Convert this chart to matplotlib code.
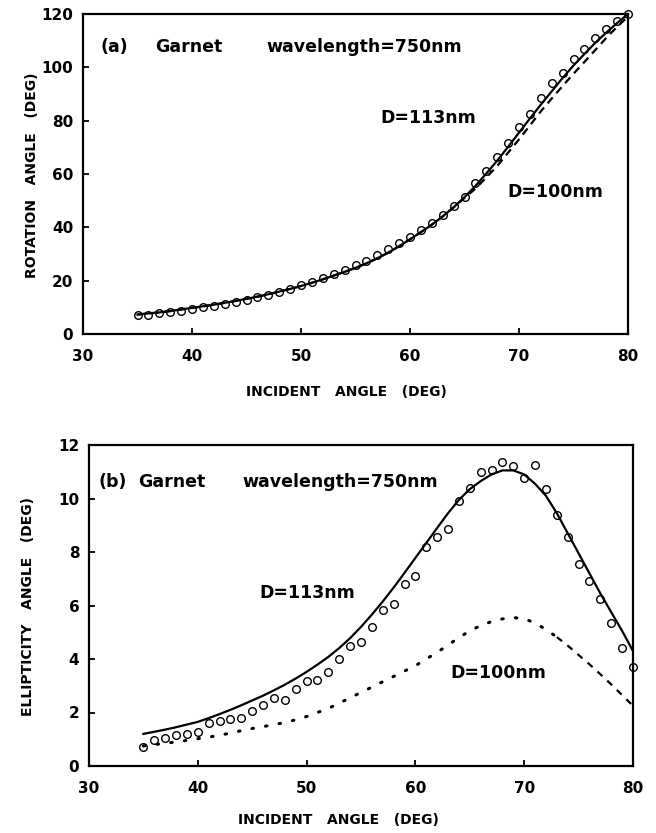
import numpy as np
import matplotlib
matplotlib.use('Agg')
import matplotlib.pyplot as plt

plt.rcParams['font.family'] = ['DejaVu Sans']
plt.rcParams['font.weight'] = 'bold'

# (a) rotation angle vs incident angle
rot_meas_x = list(range(35, 81))
rot_meas_y = [7.0, 7.2, 7.8, 8.3, 8.8, 9.3, 10.0, 10.5, 11.1, 12.0,
              12.8, 13.7, 14.7, 15.8, 17.0, 18.2, 19.5, 21.0, 22.5, 24.0,
              25.7, 27.5, 29.5, 31.7, 34.0, 36.3, 39.0, 41.8, 44.8, 48.0,
              51.5, 56.5, 61.0, 66.5, 71.5, 77.5, 82.5, 88.5, 94.0, 98.0,
              103.0, 107.0, 111.0, 114.5, 117.5, 120.0]
rot_calc_x = list(range(35, 81))
rot_d113 = [7.3, 7.7, 8.1, 8.6, 9.2, 9.8, 10.4, 11.0, 11.7, 12.4,
            13.2, 14.0, 14.9, 15.9, 16.9, 18.0, 19.2, 20.5, 21.9, 23.3,
            24.8, 26.5, 28.4, 30.5, 32.9, 35.5, 38.2, 41.0, 44.1, 47.5,
            51.3, 55.5, 60.2, 65.0, 70.2, 75.5, 80.8, 86.0, 91.0, 96.0,
            100.7, 105.0, 109.2, 113.0, 116.6, 120.0]
rot_d100 = [7.3, 7.7, 8.1, 8.6, 9.2, 9.8, 10.4, 11.0, 11.7, 12.4,
            13.2, 14.0, 14.9, 15.9, 16.9, 18.0, 19.2, 20.5, 21.9, 23.3,
            24.8, 26.5, 28.4, 30.5, 32.9, 35.5, 38.2, 41.0, 44.1, 47.5,
            51.0, 54.5, 58.7, 63.0, 68.0, 73.0, 78.2, 83.5, 88.3, 93.0,
            97.6, 102.0, 106.5, 111.0, 115.2, 119.0]

# (b) ellipticity angle vs incident angle
ell_meas_x = list(range(35, 81))
ell_meas_y = [0.7, 0.97, 1.05, 1.17, 1.2, 1.28, 1.62, 1.68, 1.74, 1.78,
              2.07, 2.27, 2.56, 2.45, 2.86, 3.18, 3.2, 3.5, 4.0, 4.48,
              4.65, 5.2, 5.85, 6.05, 6.8, 7.1, 8.2, 8.55, 8.85, 9.9,
              10.4, 11.0, 11.05, 11.35, 11.2, 10.75, 11.25, 10.35, 9.4, 8.55,
              7.55, 6.9, 6.25, 5.35, 4.4, 3.7]
ell_calc_x = list(range(35, 81))
ell_d113 = [1.2, 1.28, 1.36, 1.45, 1.55, 1.65, 1.79, 1.94, 2.1, 2.27,
            2.45, 2.63, 2.83, 3.04, 3.27, 3.52, 3.79, 4.08, 4.41, 4.78,
            5.2, 5.66, 6.15, 6.67, 7.22, 7.78, 8.34, 8.9, 9.45, 9.95,
            10.35, 10.65, 10.9, 11.05, 11.05, 10.9, 10.55, 10.1, 9.45, 8.7,
            7.95, 7.2, 6.45, 5.75, 5.05, 4.3]
ell_d100 = [0.75, 0.8, 0.85, 0.9, 0.96, 1.02, 1.08, 1.15, 1.23, 1.32,
            1.4, 1.47, 1.55, 1.62, 1.73, 1.85, 2.0, 2.15, 2.35, 2.55,
            2.75, 2.95, 3.15, 3.35, 3.55, 3.75, 4.0, 4.25, 4.52, 4.8,
            5.05, 5.25, 5.4, 5.5, 5.55, 5.5, 5.35, 5.1, 4.82, 4.5,
            4.15, 3.8, 3.43, 3.05, 2.65, 2.25]
ell_dash_from = 73  # calculated D=100 curve switches from dotted to dashed

TICK_FS = 11
LABEL_FS = 10
NOTE_FS = 12.5


def style_axes(ax, yticks):
    ax.set_xlim(30, 80)
    ax.set_xticks([30, 40, 50, 60, 70, 80])
    ax.set_ylim(yticks[0], yticks[-1])
    ax.set_yticks(yticks)
    for s in ax.spines.values():
        s.set_linewidth(1.6)
    ax.tick_params(axis='x', direction='in', length=4, width=1.3, pad=11,
                   labelsize=TICK_FS, top=False)
    ax.tick_params(axis='y', direction='in', length=4, width=1.3, pad=7,
                   labelsize=TICK_FS, right=False)
    for lab in ax.get_xticklabels() + ax.get_yticklabels():
        lab.set_fontweight('bold')


fig = plt.figure(figsize=(6.56, 8.33), dpi=100)

ax1 = fig.add_axes([83 / 656, 1 - 334 / 833, 545 / 656, 320 / 833])
ax1.plot(rot_calc_x, rot_d113, color='black', lw=1.6)
ax1.plot(rot_calc_x, rot_d100, color='black', lw=1.6, linestyle=(0, (3.5, 2.5)))
ax1.plot(rot_meas_x, rot_meas_y, linestyle='none', marker='o', ms=5.5,
         mfc='none', mec='black', mew=1.0, clip_on=False)
style_axes(ax1, [0, 20, 40, 60, 80, 100, 120])
ax1.text(31.56, 107.6, '(a)', fontsize=NOTE_FS, fontweight='bold', va='center')
ax1.text(36.6, 107.6, 'Garnet', fontsize=NOTE_FS, fontweight='bold', va='center')
ax1.text(46.8, 107.6, 'wavelength=750nm', fontsize=NOTE_FS, fontweight='bold', va='center')
ax1.text(57.3, 81, 'D=113nm', fontsize=NOTE_FS, fontweight='bold', va='center')
ax1.text(68.9, 53.4, 'D=100nm', fontsize=NOTE_FS, fontweight='bold', va='center')

ax2 = fig.add_axes([89 / 656, 1 - 766 / 833, 544 / 656, 321 / 833])
ax2.plot(ell_calc_x, ell_d113, color='black', lw=1.6)
cx = np.array(ell_calc_x)
cy = np.array(ell_d100)
dot = cx <= ell_dash_from
dash = cx >= ell_dash_from
ax2.plot(cx[dot], cy[dot], color='black', lw=2.2,
         linestyle=(0, (0.5, 4.0)), dash_capstyle='round')
ax2.plot(cx[dash], cy[dash], color='black', lw=1.6, linestyle=(0, (3, 3)))
ax2.plot(ell_meas_x, ell_meas_y, linestyle='none', marker='o', ms=5.5,
         mfc='none', mec='black', mew=1.0, clip_on=False)
style_axes(ax2, [0, 2, 4, 6, 8, 10, 12])
ax2.text(30.83, 10.62, '(b)', fontsize=NOTE_FS, fontweight='bold', va='center')
ax2.text(34.5, 10.62, 'Garnet', fontsize=NOTE_FS, fontweight='bold', va='center')
ax2.text(44.06, 10.62, 'wavelength=750nm', fontsize=NOTE_FS, fontweight='bold', va='center')
ax2.text(45.7, 6.46, 'D=113nm', fontsize=NOTE_FS, fontweight='bold', va='center')
ax2.text(63.2, 3.49, 'D=100nm', fontsize=NOTE_FS, fontweight='bold', va='center')

fig.text(32 / 656, 1 - 175 / 833, 'ROTATION   ANGLE   (DEG)', rotation=90,
         fontsize=LABEL_FS, fontweight='bold', ha='center', va='center')
fig.text(346 / 656, 1 - 392 / 833, 'INCIDENT   ANGLE   (DEG)',
         fontsize=LABEL_FS, fontweight='bold', ha='center', va='center')
fig.text(28 / 656, 1 - 606 / 833, 'ELLIPTICITY   ANGLE   (DEG)', rotation=90,
         fontsize=LABEL_FS, fontweight='bold', ha='center', va='center')
fig.text(338 / 656, 1 - 820 / 833, 'INCIDENT   ANGLE   (DEG)',
         fontsize=LABEL_FS, fontweight='bold', ha='center', va='center')

fig.savefig('out.png', dpi=100)
plt.close(fig)
